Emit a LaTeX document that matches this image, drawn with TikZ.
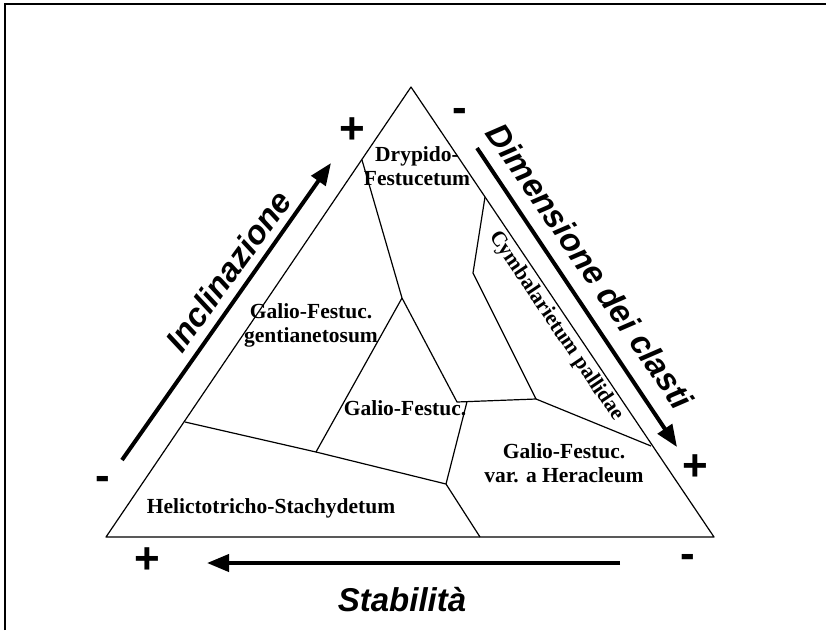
\documentclass[tikz,border=0pt]{standalone}
\usepackage{fontspec}
\setmainfont{Liberation Serif}
\setsansfont{Liberation Sans}
\usetikzlibrary{arrows.meta}
\begin{document}
\begin{tikzpicture}[x=1pt,y=-1pt,
  edge/.style={line width=1.2pt, black, line join=round},
  axis/.style={line width=4pt, -{Triangle[length=22pt,width=17pt]}},
  reg/.style={font=\fontsize{21.5}{24}\selectfont\bfseries, align=center, inner sep=0pt},
  axlab/.style={font=\fontsize{33}{36}\selectfont\sffamily\bfseries\itshape, inner sep=0pt},
  sign/.style={font=\fontsize{44}{46}\selectfont\sffamily\bfseries, inner sep=0pt}]
\useasboundingbox (0,0) rectangle (826,630);
% frame
\coordinate (fb) at (5,630);
\coordinate (fc) at (5,4);
\coordinate (fr) at (826,4);
\draw[line width=2pt] (fb) -- (fc) -- (fr);
% triangle
\coordinate (A) at (411,87);
\coordinate (L) at (106,537);
\coordinate (R) at (714,537);
\draw[edge] (A) -- (L) -- (R) -- cycle;
% interior points
\coordinate (p1) at (362,160);
\coordinate (p2) at (402,298);
\coordinate (p3) at (457,402);
\coordinate (p4) at (467,401.6);
\coordinate (p5) at (536,399);
\coordinate (p6) at (473,273);
\coordinate (p7) at (485,197);
\coordinate (p8) at (651,446);
\coordinate (p9) at (316,452);
\coordinate (p10) at (185,422);
\coordinate (p11) at (446,484);
\coordinate (p12) at (480,537);
\draw[edge] (p1) -- (p2) -- (p3) -- (p5) -- (p6) -- (p7);
\draw[edge] (p2) -- (p9);
\draw[edge] (p5) -- (p8);
\draw[edge] (p10) -- (p9) -- (p11) -- (p12);
\draw[edge] (p4) -- (p11);
% region labels
\node[reg] (dry) at (417,166) {Drypido-\\Festucetum};
\node[reg] (gen) at (311,325) {Galio-Festuc.\\gentianetosum};
\node[reg] (gf) at (405,408) {Galio-Festuc.};
\node[reg] (her) at (564,463) {Galio-Festuc.\\var. a Heracleum};
\node[reg] (hel) at (271,508) {Helictotricho-Stachydetum};
\node[reg, rotate=-56] (cym) at (556,326) {Cymbalarietum pallidae};
% axes
\coordinate (i1) at (122,460);
\coordinate (i2) at (331,163);
\draw[axis] (i1) -- (i2);
\coordinate (d1) at (477,148);
\coordinate (d2) at (677,447);
\draw[axis] (d1) -- (d2);
\coordinate (s1) at (620,563);
\coordinate (s2) at (207,563);
\draw[axis] (s1) -- (s2);
\node[axlab, rotate=54] (incl) at (228,271) {Inclinazione};
\node[axlab, rotate=-55.5] (dim) at (590,266) {Dimensione dei clasti};
\node[axlab] (stab) at (402,600) {Stabilità};
% signs
\node[sign] (s_a) at (352,131) {+};
\node[sign] (s_b) at (460,115) {-};
\node[sign] (s_c) at (695,468) {+};
\node[sign] (s_d) at (103,483) {-};
\node[sign] (s_e) at (147,561) {+};
\node[sign] (s_f) at (688,561) {-};
\end{tikzpicture}
\end{document}
